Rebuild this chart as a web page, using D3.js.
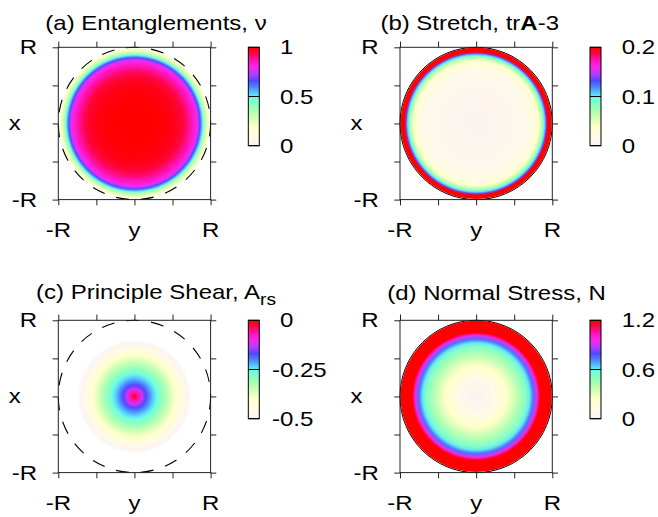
<!DOCTYPE html>
<html>
<head>
<meta charset="utf-8">
<script src="https://cdn.jsdelivr.net/npm/d3@7"></script>
<style>
  body { margin: 0; background: #fff; }
  svg { display: block; }
  text { font-family: "Liberation Sans", Arial, Helvetica, sans-serif; font-size: 20px; fill: #000; }
</style>
</head>
<body>
<svg id="fig" width="658" height="517"></svg>
<script>
// Radial sample positions, as a fraction of the pipe radius R
const radii = [0, 0.05, 0.1, 0.15, 0.2, 0.25, 0.3, 0.35, 0.4, 0.45, 0.5, 0.55, 0.6, 0.65, 0.7,
               0.75, 0.8, 0.82, 0.84, 0.86, 0.88, 0.9, 0.92, 0.94, 0.96, 0.98, 1.0];

// Cross-section profiles at the radii above
const entanglements = [1.0, 1.0, 1.0, 1.0, 0.999, 0.998, 0.996, 0.994, 0.991, 0.986, 0.98, 0.97, 0.955, 0.935, 0.905,
                       0.87, 0.82, 0.79, 0.74, 0.66, 0.57, 0.47, 0.36, 0.28, 0.23, 0.21, 0.2];
const stretch = [0, 0, 0.001, 0.002, 0.003, 0.004, 0.005, 0.006, 0.007, 0.008, 0.009, 0.01, 0.012, 0.014, 0.018,
                 0.024, 0.034, 0.042, 0.054, 0.068, 0.084, 0.104, 0.136, 0.2, 0.3, 0.4, 0.5];
const shear = [0, -0.06, -0.12, -0.17, -0.205, -0.235, -0.26, -0.29, -0.32, -0.35, -0.38, -0.405, -0.435, -0.465, -0.495,
               -0.53, -0.56, -0.57, -0.58, -0.59, -0.6, -0.61, -0.62, -0.63, -0.64, -0.65, -0.66];
const normalStress = [0, 0.005, 0.02, 0.045, 0.08, 0.12, 0.16, 0.2, 0.24, 0.29, 0.34, 0.4, 0.46, 0.52, 0.6,
                      0.74, 0.94, 1.08, 1.2, 1.3, 1.4, 1.5, 1.6, 1.7, 1.8, 1.9, 2.0];

// Colour palette (fraction of colour range -> colour)
const paletteT = [0, 0.1, 0.2, 0.3, 0.4, 0.48, 0.53, 0.6, 0.66, 0.73, 0.81, 0.88, 0.94, 1];
const paletteColors = ["#fcf3f1", "#fffbe6", "#ffffc8", "#c8ffb4", "#94ffb8", "#70ffe0", "#5cd0ff",
                       "#4a84ff", "#5248ff", "#b83cff", "#ff22e8", "#ff10a8", "#ff0440", "#ff0000"];

// Colour-bar ticks
const cbTicksA = [0, 0.5, 1],        cbLabelsA = ["0", "0.5", "1"];
const cbTicksB = [0, 0.1, 0.2],      cbLabelsB = ["0", "0.1", "0.2"];
const cbTicksC = [-0.5, -0.25, 0],   cbLabelsC = ["-0.5", "-0.25", "0"];
const cbTicksD = [0, 0.6, 1.2],      cbLabelsD = ["0", "0.6", "1.2"];

// Axis ticks (in units of R)
const axisTicks = [-1, -0.5, 0, 0.5, 1];
const labelledTicks = [-1, 0, 1];
const yTickLabels = ["-R", "y", "R"];   // horizontal axis
const xTickLabels = ["-R", "x", "R"];   // vertical axis

const panels = [
  { left: 58.3,  top: 47.3,  title: [{ t: "(a) Entanglements, \u03bd" }], titleX: 156, titleY: 29.7,
    values: entanglements, ticks: cbTicksA, labels: cbLabelsA, dashed: true },
  { left: 400.0, top: 47.3,  title: [{ t: "(b) Stretch, tr" }, { t: "A", bold: true }, { t: "-3" }], titleX: 469.7, titleY: 29.7,
    values: stretch, ticks: cbTicksB, labels: cbLabelsB, dashed: false },
  { left: 58.3,  top: 320.3, title: [{ t: "(c) Principle Shear, A" }, { t: "rs", sub: true }], titleX: 156, titleY: 299.3,
    values: shear, ticks: cbTicksC, labels: cbLabelsC, dashed: true },
  { left: 400.0, top: 320.3, title: [{ t: "(d) Normal Stress, N" }], titleX: 496.5, titleY: 299.8,
    values: normalStress, ticks: cbTicksD, labels: cbLabelsD, dashed: false }
];

const SIZE = 152.3, TICK = 5.7, STRETCH = 1.2;
const CB_OFFSET = 190, CB_W = 11, CB_H = 98.4;
const DASH = "13,12";

const svg = d3.select("#fig");
const defs = svg.append("defs");

const palette = d3.scaleLinear().domain(paletteT).range(paletteColors)
  .interpolate(d3.interpolateRgb).clamp(true);

// text drawn with the wide letterforms used throughout the figure
function label(parent, x, y, anchor) {
  return parent.append("g")
    .attr("transform", `translate(${x},${y}) scale(${STRETCH},1)`)
    .append("text").attr("text-anchor", anchor);
}

// vertical gradient for the colour bars
const cbGrad = defs.append("linearGradient").attr("id", "cbgrad")
  .attr("x1", 0).attr("y1", 1).attr("x2", 0).attr("y2", 0);
d3.range(0, 1.0001, 0.02).forEach(t => {
  cbGrad.append("stop").attr("offset", t).attr("stop-color", palette(t));
});

panels.forEach((p, i) => {
  const g = svg.append("g");
  const x = d3.scaleLinear().domain([-1, 1]).range([p.left, p.left + SIZE]);
  const y = d3.scaleLinear().domain([-1, 1]).range([p.top + SIZE, p.top]);
  const r = d3.scaleLinear().domain([0, 1]).range([0, SIZE / 2]);
  const cx = x(0), cy = y(0);

  const lo = p.ticks[0], hi = p.ticks[p.ticks.length - 1];
  const norm = d3.scaleLinear().domain([lo, hi]).range([0, 1]);

  // radial colour field
  const grad = defs.append("radialGradient").attr("id", "field" + i)
    .attr("gradientUnits", "userSpaceOnUse")
    .attr("cx", cx).attr("cy", cy).attr("r", r(1));
  radii.forEach((rr, k) => {
    const v = p.values[k];
    grad.append("stop").attr("offset", rr)
      .attr("stop-color", palette(norm(v)))
      .attr("stop-opacity", v < lo - 1e-9 ? 0 : 1);
  });

  // pipe wall (solid ones sit underneath the field)
  if (!p.dashed) {
    g.append("circle").attr("cx", cx).attr("cy", cy).attr("r", r(1))
      .attr("fill", "none").attr("stroke", "#000").attr("stroke-width", 1);
  }

  g.append("circle").attr("cx", cx).attr("cy", cy).attr("r", r(p.dashed ? 0.985 : 0.993))
    .attr("fill", `url(#field${i})`);

  if (p.dashed) {
    g.append("circle").attr("cx", cx).attr("cy", cy).attr("r", r(1))
      .attr("fill", "none").attr("stroke", "#000").attr("stroke-width", 1.1)
      .attr("stroke-dasharray", DASH);
  }

  // axes: outward ticks on all four sides
  const mk = (axis, tr) => g.append("g").attr("transform", tr)
    .call(axis.tickValues(axisTicks).tickSize(TICK).tickFormat(""))
    .call(s => s.select(".domain").remove())
    .call(s => s.selectAll("line").attr("stroke", "#222"));
  mk(d3.axisBottom(x), `translate(0,${y(-1)})`);
  mk(d3.axisTop(x), `translate(0,${y(1)})`);
  mk(d3.axisLeft(y), `translate(${x(-1)},0)`);
  mk(d3.axisRight(y), `translate(${x(1)},0)`);

  g.append("rect").attr("x", x(-1)).attr("y", y(1))
    .attr("width", x(1) - x(-1)).attr("height", y(-1) - y(1))
    .attr("fill", "none").attr("stroke", "#222").attr("stroke-width", 1);

  // tick labels
  labelledTicks.forEach((v, k) => {
    label(g, x(v), y(-1) + 37.7, "middle").text(yTickLabels[k]);
    const dy = v === 0 ? 6.5 : 7;
    label(g, x(-1) - (v === 0 ? 37.6 : 21.3), y(v) + dy, "end").text(xTickLabels[k]);
  });

  // title
  const tt = label(g, p.titleX, p.titleY, "middle");
  p.title.forEach(s => {
    const ts = tt.append("tspan").text(s.t);
    if (s.bold) ts.attr("font-weight", "bold");
    if (s.sub) ts.attr("font-size", "16px").attr("dy", 6);
  });

  // colour bar
  const cbx = p.left + CB_OFFSET;
  const cb = d3.scaleLinear().domain([lo, hi]).range([p.top + CB_H, p.top]);
  g.append("rect").attr("x", cbx).attr("y", cb(hi)).attr("width", CB_W).attr("height", cb(lo) - cb(hi))
    .attr("fill", "url(#cbgrad)").attr("stroke", "#000").attr("stroke-width", 1);
  p.ticks.forEach((v, k) => {
    g.append("line").attr("x1", cbx).attr("x2", cbx + CB_W).attr("y1", cb(v)).attr("y2", cb(v))
      .attr("stroke", "#000").attr("stroke-width", 1);
    const t = label(g, cbx + CB_W + 20.7, cb(v) + 7, "start").text(p.labels[k]);
    if (p.labels[k].startsWith("-")) {
      const minus = t.append("tspan").text("-");
      const w = minus.node().getComputedTextLength();
      minus.remove();
      t.attr("x", -w);
    }
  });
});
</script>
</body>
</html>
